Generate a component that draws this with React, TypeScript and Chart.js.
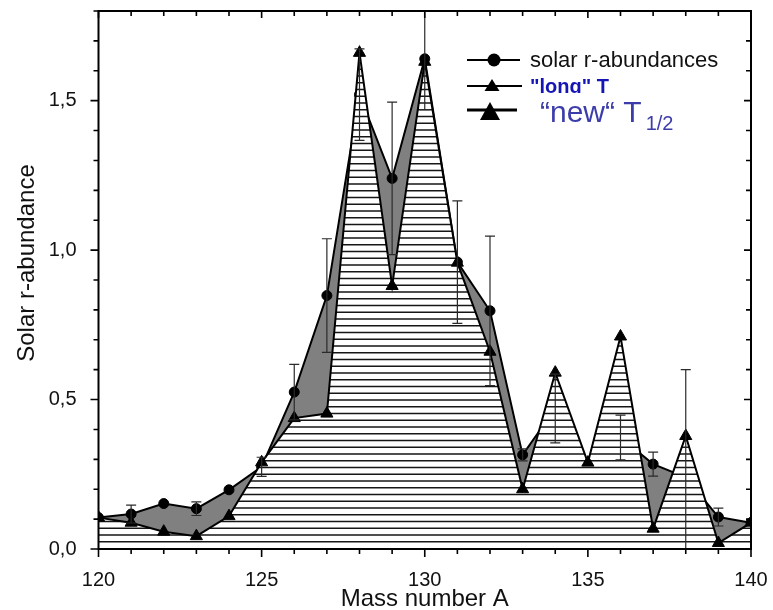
import React, { useEffect, useRef } from 'react';
import { Chart, registerables } from 'chart.js';

Chart.register(...registerables);

// ---- data ----
const massNumbers = [120, 121, 122, 123, 124, 125, 126, 127, 128, 129, 130, 131, 132, 133, 134, 135, 136, 137, 138, 139, 140];
const solarAbundance = [0.105, 0.117, 0.152, 0.135, 0.198, 0.275, 0.525, 0.848, 1.52, 1.24, 1.64, 0.96, 0.797, 0.315, 0.47, 0.29, 0.373, 0.284, 0.24, 0.107, 0.088];
const solarErrUp = [0, 0.03, 0, 0.023, 0, 0.032, 0.093, 0.19, 0.153, 0.255, 0.17, 0.205, 0.25, 0.02, 0.115, 0, 0.075, 0.04, 0.36, 0.03, 0];
const solarErrDown = [0, 0.03, 0, 0.023, 0, 0.032, 0.093, 0.19, 0.153, 0.255, 0.17, 0.205, 0.25, 0.02, 0.115, 0, 0.075, 0.04, 0.24, 0.03, 0];
const newHalfLifeAbundance = [0.105, 0.088, 0.058, 0.043, 0.11, 0.29, 0.438, 0.453, 1.66, 0.88, 1.63, 0.958, 0.66, 0.2, 0.59, 0.289, 0.711, 0.068, 0.378, 0.02, 0.088];

const xMin = 120;
const xMax = 140;
const xMajorStep = 5;
const yMin = 0;
const yMax = 1.8;
const yMajorStep = 0.5;
const yMinorStep = 0.1;

const legendLabels = ['solar r-abundances', '"long" T', '\u201cnew\u201c T', '1/2'];
const xTitle = 'Mass number A';
const yTitle = 'Solar r-abundance';

const FONT = '"Liberation Sans", Arial, sans-serif';

const hatchPlugin = {
  id: 'hatchFill',
  beforeDatasetDraw(chart: any, args: any) {
    if (args.index !== 0) return;
    const pts = args.meta.data;
    const { ctx, chartArea: ca } = chart;
    ctx.save();
    ctx.beginPath();
    ctx.rect(ca.left, ca.top, ca.right - ca.left, ca.bottom - ca.top);
    ctx.clip();
    ctx.beginPath();
    ctx.moveTo(pts[0].x, ca.bottom);
    pts.forEach((p: any) => ctx.lineTo(p.x, p.y));
    ctx.lineTo(pts[pts.length - 1].x, ca.bottom);
    ctx.closePath();
    ctx.fillStyle = '#ffffff';
    ctx.fill();
    ctx.clip();
    ctx.strokeStyle = '#161616';
    ctx.lineWidth = 1.6;
    ctx.beginPath();
    for (let yy = ca.bottom - 7.2; yy > ca.top; yy -= 6.75) {
      ctx.moveTo(ca.left, yy);
      ctx.lineTo(ca.right, yy);
    }
    ctx.stroke();
    ctx.restore();
  },
};

const errorBarPlugin = {
  id: 'errorBars',
  afterDatasetsDraw(chart: any) {
    const { ctx, chartArea: ca, scales } = chart;
    const xs = scales.x;
    const ys = scales.y;
    ctx.save();
    ctx.beginPath();
    ctx.rect(ca.left, ca.top - 1, ca.right - ca.left, ca.bottom - ca.top + 1);
    ctx.clip();
    ctx.strokeStyle = '#2a2a2a';
    ctx.lineWidth = 1.2;
    massNumbers.forEach((a, i) => {
      const up = solarErrUp[i];
      const dn = solarErrDown[i];
      if (!up && !dn) return;
      const px = xs.getPixelForValue(a);
      const y1 = ys.getPixelForValue(solarAbundance[i] + up);
      const y2 = ys.getPixelForValue(solarAbundance[i] - dn);
      ctx.beginPath();
      ctx.moveTo(px, y1);
      ctx.lineTo(px, y2);
      ctx.moveTo(px - 5, y1);
      ctx.lineTo(px + 5, y1);
      ctx.moveTo(px - 5, y2);
      ctx.lineTo(px + 5, y2);
      ctx.stroke();
    });
    ctx.restore();
  },
};

function tri(ctx: CanvasRenderingContext2D, cx: number, cy: number, w: number, h: number) {
  ctx.beginPath();
  ctx.moveTo(cx, cy - h / 2);
  ctx.lineTo(cx + w / 2, cy + h / 2);
  ctx.lineTo(cx - w / 2, cy + h / 2);
  ctx.closePath();
  ctx.fill();
}

const framePlugin = {
  id: 'frameAndLegend',
  afterDraw(chart: any) {
    const { ctx, chartArea: ca, scales } = chart;
    const xs = scales.x;
    const ys = scales.y;
    ctx.save();
    // frame
    ctx.strokeStyle = '#000';
    ctx.lineWidth = 2;
    ctx.strokeRect(ca.left, ca.top, ca.right - ca.left, ca.bottom - ca.top);
    // ticks
    ctx.lineWidth = 1.6;
    ctx.beginPath();
    for (let v = xMin; v <= xMax; v += 1) {
      const px = xs.getPixelForValue(v);
      const major = (v - xMin) % xMajorStep === 0;
      ctx.moveTo(px, ca.bottom);
      ctx.lineTo(px, ca.bottom + (major ? 8 : 5));
      ctx.moveTo(px, ca.top);
      ctx.lineTo(px, ca.top + (major ? 7 : 5));
    }
    const nY = Math.round((yMax - yMin) / yMinorStep);
    for (let k = 0; k <= nY; k++) {
      const v = yMin + k * yMinorStep;
      const py = ys.getPixelForValue(v);
      const major = k % Math.round(yMajorStep / yMinorStep) === 0;
      ctx.moveTo(ca.left, py);
      ctx.lineTo(ca.left - (major ? 8 : 5), py);
      ctx.moveTo(ca.right, py);
      ctx.lineTo(ca.right - (major ? 7 : 5), py);
    }
    ctx.stroke();

    // axis titles
    ctx.fillStyle = '#111';
    ctx.font = `24px ${FONT}`;
    ctx.textAlign = 'center';
    ctx.textBaseline = 'middle';
    ctx.fillText(xTitle, (ca.left + ca.right) / 2, 599);
    ctx.save();
    ctx.translate(27, 263);
    ctx.rotate(-Math.PI / 2);
    ctx.fillText(yTitle, 0, 0);
    ctx.restore();

    // legend
    ctx.fillStyle = '#000';
    ctx.strokeStyle = '#000';
    ctx.lineWidth = 2;
    ctx.beginPath();
    ctx.moveTo(467, 60);
    ctx.lineTo(520, 60);
    ctx.stroke();
    ctx.beginPath();
    ctx.arc(494, 60, 6.5, 0, Math.PI * 2);
    ctx.fill();
    ctx.textAlign = 'left';
    ctx.textBaseline = 'alphabetic';
    ctx.font = `22px ${FONT}`;
    ctx.fillStyle = '#111';
    ctx.fillText(legendLabels[0], 530, 67);

    ctx.fillStyle = '#000';
    ctx.beginPath();
    ctx.moveTo(467, 86);
    ctx.lineTo(522, 86);
    ctx.stroke();
    tri(ctx, 492, 85, 15, 12);
    ctx.fillStyle = '#1515b5';
    ctx.font = `bold 20px ${FONT}`;
    ctx.fillText(legendLabels[1], 530, 93);

    // overlay box for "new" entry
    ctx.fillStyle = '#ffffff';
    ctx.fillRect(462, 93, 278, 50);
    ctx.fillStyle = '#000';
    ctx.lineWidth = 3;
    ctx.beginPath();
    ctx.moveTo(467, 110);
    ctx.lineTo(517, 110);
    ctx.stroke();
    tri(ctx, 490, 111, 20, 18);
    ctx.fillStyle = '#3c3caa';
    ctx.font = `30px ${FONT}`;
    ctx.fillText(legendLabels[2], 540, 122);
    const w = ctx.measureText(legendLabels[2]).width;
    ctx.font = `20px ${FONT}`;
    ctx.fillText(legendLabels[3], 540 + w + 4, 130);
    ctx.restore();
  },
};

function zeroPad(s: any) {
  s.paddingTop = 0;
  s.paddingBottom = 0;
  s.paddingLeft = 0;
  s.paddingRight = 0;
}

export default function App() {
  const ref = useRef<HTMLCanvasElement>(null);
  useEffect(() => {
    const newPts = massNumbers.map((a, i) => ({ x: a, y: newHalfLifeAbundance[i] }));
    const solarPts = massNumbers.map((a, i) => ({ x: a, y: solarAbundance[i] }));
    const chart = new Chart(ref.current as HTMLCanvasElement, {
      type: 'line',
      data: {
        datasets: [
          {
            label: '"new" T1/2',
            data: newPts,
            borderColor: '#000',
            borderWidth: 2,
            pointStyle: 'triangle',
            pointRadius: 7,
            pointBackgroundColor: '#000',
            pointBorderColor: '#000',
            pointBorderWidth: 1,
            fill: false,
            tension: 0,
            order: 1,
          },
          {
            label: 'solar r-abundances',
            data: solarPts,
            borderColor: '#000',
            borderWidth: 2,
            backgroundColor: '#808080',
            pointStyle: 'circle',
            pointRadius: 5,
            pointBackgroundColor: '#000',
            pointBorderColor: '#000',
            pointBorderWidth: 1,
            fill: 'origin',
            tension: 0,
            order: 2,
          },
        ],
      },
      options: {
        animation: false,
        responsive: false,
        devicePixelRatio: 1,
        layout: { padding: { left: 0, top: 11, right: 22, bottom: 0 } },
        plugins: {
          legend: { display: false },
          tooltip: { enabled: false },
        },
        scales: {
          x: {
            type: 'linear',
            min: xMin,
            max: xMax,
            grid: { display: false },
            border: { display: false },
            ticks: {
              stepSize: xMajorStep,
              padding: 11,
              color: '#111',
              font: { family: FONT, size: 20 },
              maxRotation: 0,
            },
            afterFit: (s: any) => {
              s.height = 61;
              zeroPad(s);
            },
          },
          y: {
            type: 'linear',
            min: yMin,
            max: yMax,
            grid: { display: false },
            border: { display: false },
            ticks: {
              stepSize: yMajorStep,
              includeBounds: false,
              padding: 14,
              color: '#111',
              font: { family: FONT, size: 20 },
              callback: (v: any) => {
                const n = Number(v);
                if (Math.abs(n / yMajorStep - Math.round(n / yMajorStep)) > 1e-6) return '';
                return n.toFixed(1).replace('.', ',');
              },
            },
            afterFit: (s: any) => {
              s.width = 98.5;
              zeroPad(s);
            },
          },
        },
      },
      plugins: [hatchPlugin, errorBarPlugin, framePlugin],
    } as any);
    return () => chart.destroy();
  }, []);
  return (
    <div style={{ position: 'absolute', left: 0, top: 0, width: 773, height: 610, background: '#fff' }}>
      <canvas ref={ref} width={773} height={610} style={{ display: 'block', width: 773, height: 610 }} />
    </div>
  );
}
